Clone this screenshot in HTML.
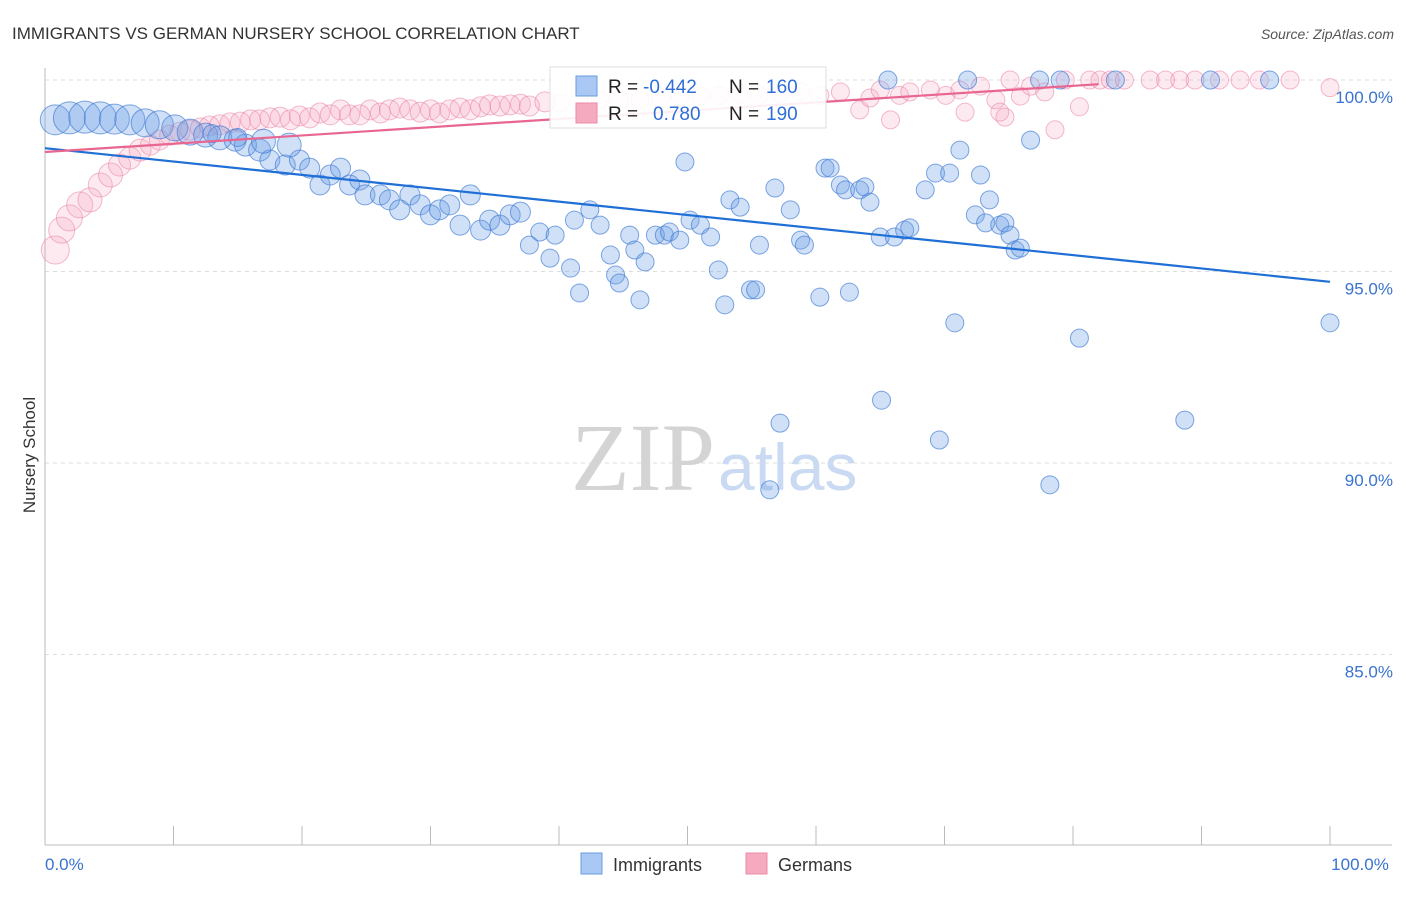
<!DOCTYPE html>
<html><head><meta charset="utf-8"><style>
body{margin:0;background:#fff;font-family:"Liberation Sans",sans-serif}
svg text{font-family:"Liberation Sans",sans-serif}
</style></head><body>
<svg width="1406" height="892" viewBox="0 0 1406 892">
<text x="12" y="39" font-size="17" fill="#333">IMMIGRANTS VS GERMAN NURSERY SCHOOL CORRELATION CHART</text>
<text x="1394" y="39" font-size="14" fill="#555" text-anchor="end" font-style="italic">Source: ZipAtlas.com</text>
<g id="grid"></g>
<text x="715" y="490" font-size="96" fill="#d4d4d4" text-anchor="end" style="font-family:'Liberation Serif',serif">ZIP</text>
<text x="718" y="490" font-size="66" fill="#c9daf2">atlas</text>
<g id="pts"></g>
<g id="lines"></g>
<text x="35" y="455" font-size="17" fill="#333" text-anchor="middle" transform="rotate(-90 35 455)">Nursery School</text>
<g>
<rect x="550" y="67" width="276" height="61" fill="#fff" fill-opacity="0.9" stroke="#ddd"/>
<rect x="576" y="76" width="21" height="20" fill="#a9c8f3" stroke="#6a9de0"/>
<rect x="576" y="103" width="21" height="20" fill="#f6aac0" stroke="#ec89a7"/>
<text x="608" y="93" font-size="19" fill="#222">R =</text>
<text x="643" y="93" font-size="19" fill="#2f6fd6">-0.442</text>
<text x="729" y="93" font-size="19" fill="#222">N =</text>
<text x="766" y="93" font-size="19" fill="#2f6fd6">160</text>
<text x="608" y="120" font-size="19" fill="#222">R =</text>
<text x="653" y="120" font-size="19" fill="#2f6fd6">0.780</text>
<text x="729" y="120" font-size="19" fill="#222">N =</text>
<text x="766" y="120" font-size="19" fill="#2f6fd6">190</text>
</g>
<g>
<rect x="581" y="853" width="21" height="21" fill="#a9c8f3" stroke="#6a9de0"/>
<text x="613" y="871" font-size="18" fill="#333">Immigrants</text>
<rect x="746" y="853" width="21" height="21" fill="#f6aac0" stroke="#ec89a7"/>
<text x="778" y="871" font-size="18" fill="#333">Germans</text>
</g>
</svg>
<script>
const yTicks=[100,95,90,85];
const yTickLabels=["100.0%","95.0%","90.0%","85.0%"];
const xTicks=[0,10,20,30,40,50,60,70,80,90,100];
const xEndLabels=["0.0%","100.0%"];
const blueX=[0.8,1.9,3.1,4.3,5.4,6.6,7.8,8.9,10.1,11.3,12.5,13.6,14.8,15.6,16.7,17.5,18.7,19.8,20.6,21.4,22.2,23,23.7,24.5,24.9,26.1,26.8,27.6,28.4,29.2,30,30.7,31.5,32.3,33.1,33.9,34.6,35.4,36.2,37,37.7,38.5,39.3,39.7,40.9,41.2,41.6,42.4,43.2,44,44.4,44.7,45.5,45.9,46.3,46.7,47.5,48.2,48.6,49.4,49.8,50.2,51,51.8,52.4,52.9,53.3,54.1,54.9,55.3,55.6,56.8,57.2,58,58.8,59.1,60.3,60.7,61.1,61.9,62.3,62.6,63.4,63.8,64.2,65,65.1,65.6,66.1,66.9,67.3,68.5,69.3,69.6,70.4,70.8,71.2,72.4,72.8,73.2,73.5,74.3,74.7,75.1,75.5,75.9,76.7,78.2,79,80.5,83.3,88.7,90.7,95.3,100,71.8,77.4,56.4,13,15,17,19];
const blueY=[98.96,99.01,99.03,99.01,98.98,98.96,98.88,98.83,98.75,98.64,98.56,98.49,98.43,98.3,98.17,97.91,97.78,97.91,97.7,97.26,97.52,97.7,97.26,97.39,97,97,96.87,96.61,97,96.74,96.48,96.61,96.74,96.21,97,96.08,96.34,96.21,96.48,96.55,95.69,96.03,95.35,95.95,95.09,96.34,94.44,96.61,96.21,95.43,94.91,94.7,95.95,95.56,94.26,95.25,95.95,95.95,96.03,95.82,97.86,96.34,96.21,95.9,95.04,94.13,96.87,96.68,94.52,94.52,95.69,97.18,91.04,96.61,95.82,95.69,94.33,97.7,97.7,97.26,97.13,94.46,97.13,97.21,96.81,95.9,91.64,100,95.9,96.08,96.14,97.13,97.57,90.6,97.57,93.66,98.17,96.48,97.52,96.27,96.87,96.21,96.27,95.95,95.56,95.61,98.43,89.43,100,93.26,100,91.12,100,100,93.66,100,100,89.3,98.6,98.5,98.4,98.3];
const blueR=[15,16,16,16,15,15,14,14,13,13,12,12,11,11,11,10,10,10,10,10,10,10,10,10,10,10,10,10,10,10,10,10,10,10,10,10,10,10,10,10,9,9,9,9,9,9,9,9,9,9,9,9,9,9,9,9,9,9,9,9,9,9,9,9,9,9,9,9,9,9,9,9,9,9,9,9,9,9,9,9,9,9,9,9,9,9,9,9,9,9,9,9,9,9,9,9,9,9,9,9,9,9,9,9,9,9,9,9,9,9,9,9,9,9,9,9,9,9,9,9,12,12,11,11];
const pinkX=[0.8,1.3,1.9,2.7,3.5,4.3,5.1,5.8,6.6,7.4,8.2,8.9,9.7,10.5,11.3,12.1,12.8,13.6,14.4,15.2,16,16.7,17.5,18.3,19.1,19.8,20.6,21.4,22.2,23,23.7,24.5,25.3,26.1,26.8,27.6,28.4,29.2,30,30.7,31.5,32.3,33.1,33.9,34.6,35.4,36.2,37,37.7,38.9,40.1,41.6,43.2,44.7,46.3,47.9,49.4,51,52.5,54.1,55.6,57.2,58.8,60.3,61.9,63.4,64.2,65,65.8,66.5,67.3,68.9,70.1,71.2,71.6,72.8,74,74.3,74.7,75.1,75.9,76.7,77.8,78.6,79.4,80.5,81.3,82.1,82.9,84,86,87.2,88.3,89.5,91.4,93,94.5,96.9,100];
const pinkY=[95.56,96.08,96.4,96.74,96.87,97.26,97.52,97.78,97.96,98.17,98.3,98.43,98.56,98.64,98.69,98.75,98.8,98.83,98.88,98.9,98.96,98.96,99.01,99.03,98.96,99.06,99.01,99.14,99.09,99.22,99.09,99.09,99.22,99.14,99.22,99.27,99.22,99.16,99.22,99.14,99.22,99.27,99.22,99.3,99.35,99.32,99.35,99.37,99.32,99.43,99.4,99.43,99.48,99.48,99.48,99.53,99.56,99.58,99.6,99.63,99.6,99.65,99.69,99.6,99.69,99.22,99.53,99.74,98.96,99.6,99.69,99.74,99.6,99.74,99.16,99.84,99.48,99.16,99.03,100,99.58,99.84,99.69,98.7,100,99.3,100,100,100,100,100,100,100,100,100,100,100,100,99.8];
const pinkR=[14,13,13,13,12,12,12,11,11,11,10,10,10,10,10,10,10,10,10,10,10,10,10,10,10,10,10,10,10,10,10,10,10,10,10,10,10,10,10,10,10,10,10,10,10,10,10,10,10,10,9,9,9,9,9,9,9,9,9,9,9,9,9,9,9,9,9,9,9,9,9,9,9,9,9,9,9,9,9,9,9,9,9,9,9,9,9,9,9,9,9,9,9,9,9,9,9,9,9];
const blueTrend=[0,98.22,100,94.73];
const pinkTrend=[0,98.12,82,99.89];
const X0=45,X1=1330,YTOP=80,PX5=191.5;
const sx=v=>X0+(X1-X0)*v/100;
const sy=v=>YTOP+(100-v)*PX5/5;
const NS='http://www.w3.org/2000/svg';
function mk(t,a,p){const e=document.createElementNS(NS,t);for(const k in a)e.setAttribute(k,a[k]);p.appendChild(e);return e;}
const grid=document.getElementById('grid');
yTicks.forEach((v,i)=>{
 const l=mk('line',{x1:X0,x2:1392,y1:sy(v),y2:sy(v),stroke:'#ddd','stroke-dasharray':'4 4'},grid);
 
 
 const t=mk('text',{x:1393,y:sy(v)+23,'font-size':17,fill:'#3a73d0','text-anchor':'end'},grid);
 t.textContent=yTickLabels[i];
 
 
});
const ax=mk('line',{x1:X0,x2:X0,y1:68,y2:845,stroke:'#bbb'},grid);


const bx=mk('line',{x1:X0,x2:1392,y1:845,y2:845,stroke:'#bbb'},grid);


xTicks.forEach(v=>{const l=mk('line',{x1:sx(v),x2:sx(v),y1:826,y2:845,stroke:'#bbb'},grid);
 
 });
[[0,'start'],[100,'middle']].forEach((o,i)=>{const t=mk('text',{x:i?sx(100)+30:sx(0),y:870,'font-size':17,fill:'#3a73d0','text-anchor':o[1]},grid);t.textContent=xEndLabels[i];
 
 });
const pts=document.getElementById('pts');
pinkX.forEach((x,i)=>{const c=mk('circle',{cx:sx(x),cy:sy(pinkY[i]),r:pinkR[i],fill:'rgba(244,160,188,0.22)',stroke:'rgba(232,120,155,0.5)','stroke-width':1},pts);
 
 });
blueX.forEach((x,i)=>{const c=mk('circle',{cx:sx(x),cy:sy(blueY[i]),r:blueR[i],fill:'rgba(110,160,230,0.32)',stroke:'rgba(60,120,210,0.65)','stroke-width':1},pts);
 
 });
const lines=document.getElementById('lines');
const bl=mk('line',{x1:sx(blueTrend[0]),y1:sy(blueTrend[1]),x2:sx(blueTrend[2]),y2:sy(blueTrend[3]),stroke:'#1f6fd6','stroke-width':2.2},lines);


const pl=mk('line',{x1:sx(pinkTrend[0]),y1:sy(pinkTrend[1]),x2:sx(pinkTrend[2]),y2:sy(pinkTrend[3]),stroke:'#e8668f','stroke-width':2.2},lines);


</script>
</body></html>
